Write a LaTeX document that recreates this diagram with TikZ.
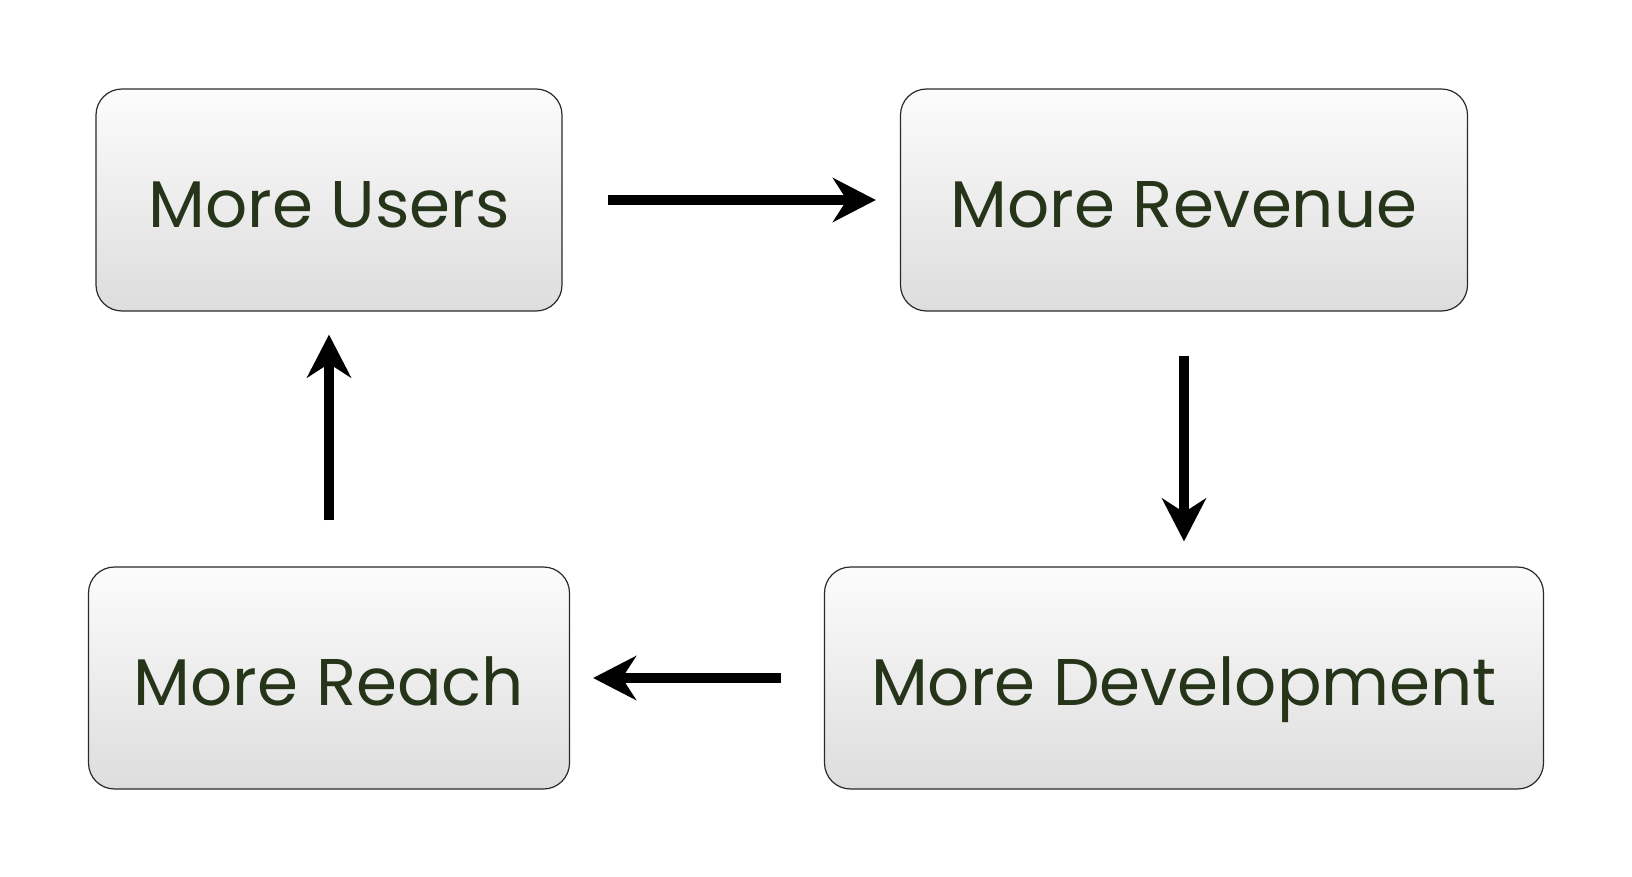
\documentclass[tikz,border=0pt]{standalone}
\usepackage{fontspec}
\setmainfont{Poppins}
\usetikzlibrary{arrows.meta}
\definecolor{txt}{HTML}{263519}
\definecolor{boxtop}{HTML}{FCFCFC}
\definecolor{boxbot}{HTML}{DDDDDD}
\definecolor{boxline}{HTML}{2A2A2A}
\tikzset{
  card/.style={draw=boxline, line width=1.2pt, rounded corners=26pt,
    top color=boxtop, bottom color=boxbot, text=txt,
    minimum height=222pt, inner sep=0pt, text height=55pt, text depth=0pt,
    font=\fontsize{66}{74}\selectfont},
  flow/.style={line width=10pt, -{Stealth[length=43pt,width=44pt,inset=14pt]}}
}
\begin{document}
\begin{tikzpicture}[x=1pt,y=-1pt]
\useasboundingbox (0,0) rectangle (1632,877);
\node[card, minimum width=466pt] (U) at (329,200) {More Users};
\node[card, minimum width=567pt] (R) at (1184,200) {More Revenue};
\node[card, minimum width=481pt] (Re) at (329,678) {More Reach};
\node[card, minimum width=719pt] (D) at (1184,678) {More Development};
\draw[flow, shorten <=45pt, shorten >=24pt] (U.east) -- (R.west);
\draw[flow, shorten <=44pt, shorten >=25pt] (R.south) -- (D.north);
\draw[flow, shorten <=43pt, shorten >=23pt] (D.west) -- (Re.east);
\draw[flow, shorten <=46pt, shorten >=23pt] (Re.north) -- (U.south);
\end{tikzpicture}
\end{document}
